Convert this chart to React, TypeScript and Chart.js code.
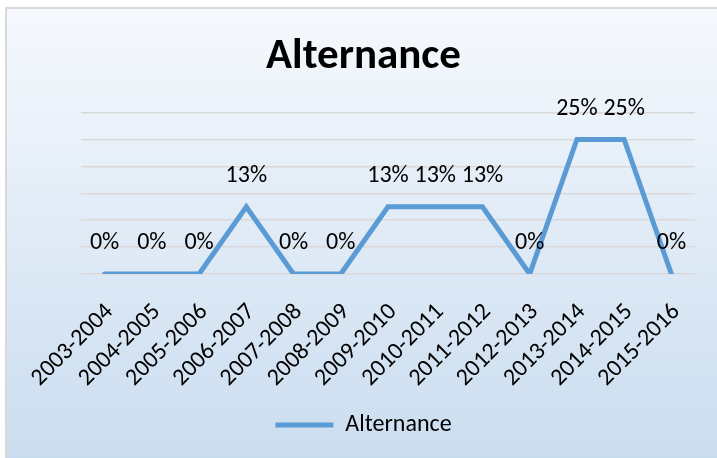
import React, { useEffect, useRef } from "react";
import { Chart, registerables } from "chart.js";

Chart.register(...registerables);

const categories = [
  "2003-2004", "2004-2005", "2005-2006", "2006-2007", "2007-2008", "2008-2009",
  "2009-2010", "2010-2011", "2011-2012", "2012-2013", "2013-2014", "2014-2015", "2015-2016",
];
const alternance = [0, 0, 0, 12.5, 0, 0, 12.5, 12.5, 12.5, 0, 25, 25, 0];
const seriesName = "Alternance";
const chartTitle = "Alternance";

const FONT = "Carlito, Lato, 'Open Sans', sans-serif";

const backgroundPlugin = {
  id: "bgBox",
  beforeDraw(chart: any) {
    const ctx = chart.ctx;
    ctx.save();
    const g = ctx.createLinearGradient(0, 7, 0, 470);
    g.addColorStop(0, "#F6F9FD");
    g.addColorStop(1, "#C9DCEF");
    ctx.fillStyle = g;
    ctx.fillRect(5, 7, chart.width, chart.height);
    ctx.strokeStyle = "#D9D9D9";
    ctx.lineWidth = 2;
    ctx.strokeRect(6, 8, chart.width + 10, chart.height + 10);
    ctx.restore();
  },
};

const dataLabelPlugin = {
  id: "dataLabels",
  afterDatasetsDraw(chart: any) {
    const ctx = chart.ctx;
    const meta = chart.getDatasetMeta(0);
    const data = chart.data.datasets[0].data as number[];
    ctx.save();
    ctx.font = `24px ${FONT}`;
    ctx.fillStyle = "#000";
    ctx.textAlign = "center";
    ctx.textBaseline = "middle";
    meta.data.forEach((pt: any, i: number) => {
      ctx.fillText(`${Math.round(data[i])}%`, pt.x, pt.y - 31);
    });
    ctx.restore();
  },
};

export default function App() {
  const ref = useRef<HTMLCanvasElement>(null);
  useEffect(() => {
    if (!ref.current) return;
    const chart = new Chart(ref.current, {
      type: "line",
      data: {
        labels: categories,
        datasets: [
          {
            label: seriesName,
            data: alternance,
            borderColor: "#5B9BD5",
            backgroundColor: "#5B9BD5",
            borderWidth: 5,
            pointRadius: 0,
            pointHoverRadius: 0,
            tension: 0,
            borderJoinStyle: "miter",
            borderCapStyle: "round",
          },
        ],
      },
      options: {
        animation: false,
        responsive: false,
        devicePixelRatio: 1,
        layout: { padding: { left: 10, right: 0, top: 0, bottom: 11 } },
        plugins: {
          title: {
            display: true,
            text: chartTitle,
            color: "#000",
            font: { family: FONT, size: 43, weight: "bold", lineHeight: 1.2 },
            padding: { top: 31, bottom: 30 },
          },
          legend: {
            display: true,
            position: "bottom",
            labels: {
              color: "#000",
              font: { family: FONT, size: 24 },
              usePointStyle: true,
              pointStyle: "line",
              pointStyleWidth: 58,
              boxHeight: 24,
              padding: 10,
            },
          },
          tooltip: { enabled: false },
        },
        scales: {
          x: {
            offset: true,
            grid: { display: false },
            border: { display: false },
            ticks: {
              color: "#000",
              font: { family: FONT, size: 24 },
              minRotation: 45,
              maxRotation: 45,
              autoSkip: false,
              padding: 16,
              labelOffset: 5,
            },
            afterFit(s: any) {
              s.height = 129;
            },
          },
          y: {
            min: 0,
            max: 30,
            ticks: { stepSize: 5, display: false },
            grid: { color: "#D9D9D9", lineWidth: 1.5, drawTicks: false },
            border: { display: false },
            afterFit(s: any) {
              s.width = 71;
            },
          },
          y2: {
            position: "right",
            display: true,
            grid: { display: false, drawTicks: false },
            ticks: { display: false },
            border: { display: false },
            afterFit(s: any) {
              s.width = 22;
            },
          },
        },
      },
      plugins: [backgroundPlugin, dataLabelPlugin],
    } as any);
    return () => chart.destroy();
  }, []);
  return (
    <div style={{ position: "fixed", left: 0, top: 0, width: 717, height: 458 }}>
      <canvas ref={ref} width={717} height={458} style={{ display: "block" }} />
    </div>
  );
}
